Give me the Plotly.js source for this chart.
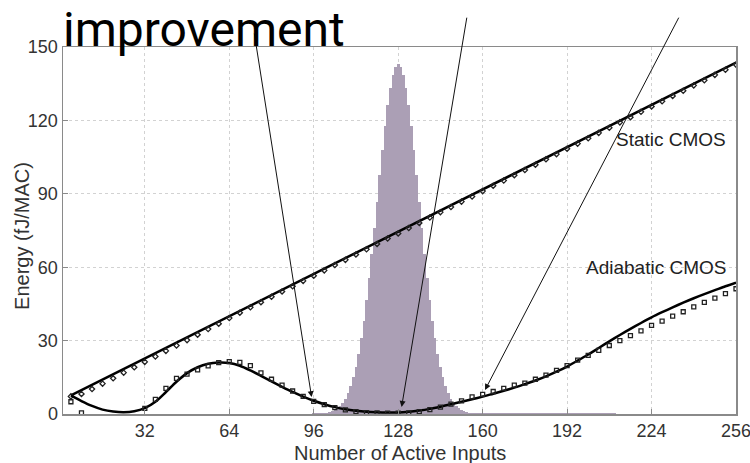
<!DOCTYPE html>
<html>
<head>
<meta charset="utf-8">
<script src="https://cdn.plot.ly/plotly-3.0.1.min.js"></script>
<style>html,body{margin:0;padding:0;background:#fff;}#chart{width:750px;height:463px;}</style>
</head>
<body>
<div id="chart"></div>
<script>
// ---- data ----
const xTickVals = [32, 64, 96, 128, 160, 192, 224, 256];
const yTickVals = [0, 30, 60, 90, 120, 150];

// Static CMOS model line (end points)
const staticLineX = [4, 256];
const staticLineY = [7.6, 143.6];

// Static CMOS measured markers, every 4 inputs starting at 4
const staticMarkStart = 4, staticMarkStep = 4;
const staticMarkY = [7.2, 8.2, 10.2, 12.4, 14.6, 16.9, 19.1, 21.3, 23.5, 25.8,
  28.0, 30.2, 32.4, 34.7, 36.9, 39.2, 41.4, 43.6, 45.7, 47.9,
  50.1, 52.2, 54.4, 56.5, 58.7, 60.9, 63.0, 65.2, 67.3, 69.5,
  71.7, 73.8, 76.0, 78.1, 80.3, 82.5, 84.6, 86.8, 88.9, 91.1,
  93.3, 95.4, 97.6, 99.7, 101.9, 104.1, 106.2, 108.4, 110.5, 112.7,
  114.9, 117.0, 119.2, 121.3, 123.5, 125.7, 127.8, 130.0, 132.1, 134.3,
  136.4, 138.6, 140.7, 142.8];

// Adiabatic CMOS model curve, every 4 inputs starting at 4
const adiaLineStart = 4, adiaLineStep = 4;
const adiaLineY = [7.6, 5.3, 3.3, 1.8, 1.0, 0.7, 1.1, 2.4, 5.0, 9.0,
  13.2, 16.7, 19.1, 20.5, 21.0, 20.8, 19.7, 17.8, 15.6, 13.3,
  11.1, 9.0, 7.1, 5.4, 4.0, 2.8, 1.9, 1.3, 0.9, 0.7,
  0.6, 0.6, 0.9, 1.4, 2.1, 3.0, 4.0, 5.0, 6.0, 7.1,
  8.3, 9.5, 10.8, 12.2, 13.7, 15.4, 17.3, 19.4, 21.8, 24.3,
  27.0, 29.7, 32.3, 34.8, 37.2, 39.5, 41.6, 43.6, 45.5, 47.3,
  49.0, 50.6, 52.2, 53.7];

// Adiabatic CMOS measured markers, every 4 inputs starting at 4
const adiaMarkStart = 4, adiaMarkStep = 4;
const adiaMarkY = [5.0, 0.5, null, null, null, null, null, 2.3, 6.0, 10.5,
  14.6, 16.3, 18.0, 19.7, 21.0, 21.4, 21.1, 19.8, 16.8, 14.2,
  11.8, 9.4, 7.2, 5.2, 3.8, 2.6, 1.7, 1.0, 0.6, 0.4,
  0.3, 0.3, 0.5, 1.0, 1.8, 2.8, 4.0, 5.4, 7.0, 8.0,
  9.2, 10.5, 11.8, 12.6, 14.2, 15.9, 17.8, 19.8, 22.0, 24.0,
  26.0, 28.0, 30.0, 32.0, 34.0, 36.2, 38.0, 40.0, 41.8, 43.8,
  45.6, 47.4, 49.2, 51.2];

// Histogram of active inputs (scaled), one bin per input starting at 96
const histStart = 96, histStep = 1;
const histY = [0.4, 0.4, 0.4, 0.4, 0.4, 0.5, 0.7, 1.1, 1.6, 2.3,
  3.3, 4.6, 6.3, 8.5, 11.4, 15.0, 19.4, 24.7, 30.9, 38.2,
  46.4, 55.6, 65.5, 75.9, 86.7, 97.5, 107.9, 117.6, 126.2, 133.3,
  138.6, 141.9, 143.0, 141.9, 138.6, 133.3, 126.2, 117.6, 107.9, 97.5,
  86.7, 75.9, 65.5, 55.6, 46.4, 38.2, 30.9, 24.7, 19.4, 15.0,
  11.4, 8.5, 6.3, 4.6, 3.3, 2.3, 1.6, 1.1, 0.7, 0.5,
  0.4, 0.4, 0.4, 0.4, 0.4, 0.4, 0.4, 0.4, 0.4, 0.4,
  0.4, 0.4, 0.4, 0.4, 0.4, 0.4, 0.4, 0.4, 0.4, 0.4,
  0.4, 0.4, 0.4, 0.4, 0.4, 0.4, 0.4, 0.4, 0.4, 0.4,
  0.4, 0.4, 0.4, 0.4, 0.4, 0.4, 0.4, 0.4, 0.4, 0.4,
  0.4, 0.4, 0.4, 0.4, 0.4, 0.4, 0.4, 0.4, 0.4, 0.4,
  0.4, 0.4, 0.4, 0.4, 0.4];

// Arrows: tips and tails in data units
const arrowTips = [[95.2, 6.9], [129.3, 2.9], [160.9, 9.8]];
const arrowTails = [[73.4, 156.1], [154.1, 162.6], [234.6, 162.6]];

const labels = {
  title: 'improvement',
  xTitle: 'Number of Active Inputs',
  yTitle: 'Energy (fJ/MAC)',
  staticLbl: 'Static CMOS',
  adiaLbl: 'Adiabatic CMOS'
};

const sans = 'Liberation Sans, Arial, sans-serif';

// ---- traces ----
const traces = [
  {type: 'bar', x0: histStart, dx: histStep, y: histY, width: 1,
   marker: {color: '#ab9fb5', line: {width: 0}}, hoverinfo: 'skip'},
  {type: 'scatter', mode: 'lines', x: staticLineX, y: staticLineY,
   line: {color: '#000', width: 2.5}},
  {type: 'scatter', mode: 'markers', x0: staticMarkStart, dx: staticMarkStep, y: staticMarkY,
   marker: {symbol: 'diamond-open', size: 4, color: '#222', line: {width: 1.3, color: '#222'}}},
  {type: 'scatter', mode: 'lines', x0: adiaLineStart, dx: adiaLineStep, y: adiaLineY,
   line: {color: '#000', width: 2.5, shape: 'spline', smoothing: 0.8}},
  {type: 'scatter', mode: 'markers', x0: adiaMarkStart, dx: adiaMarkStep, y: adiaMarkY,
   marker: {symbol: 'square-open', size: 4, color: '#222', line: {width: 1.3, color: '#222'}}}
];

const axisCommon = {
  showline: true, linecolor: '#8a8a8a', linewidth: 1.5, mirror: true,
  showgrid: true, gridcolor: '#d2d2d2', griddash: 'dot', gridwidth: 1,
  ticks: 'inside', ticklen: 5, tickcolor: '#8a8a8a',
  zeroline: false, ticklabeloverflow: 'allow',
  tickfont: {family: sans, size: 18, color: '#333'}
};

const annotations = [];
for (let i = 0; i < arrowTips.length; i++) {
  annotations.push({
    x: arrowTips[i][0], y: arrowTips[i][1], xref: 'x', yref: 'y',
    ax: arrowTails[i][0], ay: arrowTails[i][1], axref: 'x', ayref: 'y',
    showarrow: true, arrowhead: 2, arrowsize: 1.2, arrowwidth: 1, arrowcolor: '#111', text: ''
  });
}
// 'improvement' text, box top just inside the page
annotations.push({
  x: 0.0, y: (414 - 0.5) / 367, xref: 'paper', yref: 'paper', xanchor: 'left', yanchor: 'top',
  text: labels.title, showarrow: false, borderpad: 0, borderwidth: 0,
  font: {family: 'Roboto, sans-serif', size: 48, color: '#000'}
});
annotations.push({
  x: 253, y: 112, xref: 'x', yref: 'y', xanchor: 'right', yanchor: 'middle',
  text: labels.staticLbl, showarrow: false,
  font: {family: sans, size: 19, color: '#222'}
});
annotations.push({
  x: 253, y: 60, xref: 'x', yref: 'y', xanchor: 'right', yanchor: 'middle',
  text: labels.adiaLbl, showarrow: false,
  font: {family: sans, size: 19, color: '#222'}
});
annotations.push({
  x: -0.061, y: 0.485, xref: 'paper', yref: 'paper', xanchor: 'center', yanchor: 'middle',
  text: labels.yTitle, textangle: -90, showarrow: false,
  font: {family: sans, size: 20, color: '#333'}
});
annotations.push({
  x: 0.5, y: (414 - 453) / 367, xref: 'paper', yref: 'paper', xanchor: 'center', yanchor: 'middle',
  text: labels.xTitle, showarrow: false,
  font: {family: sans, size: 20, color: '#333'}
});

const layout = {
  width: 750, height: 463,
  margin: {l: 63, r: 14, t: 47, b: 49},
  paper_bgcolor: '#fff', plot_bgcolor: '#fff',
  showlegend: false, bargap: 0,
  xaxis: Object.assign({}, axisCommon, {
    range: [1, 256], tickvals: xTickVals, ticktext: xTickVals.map(String)
  }),
  yaxis: Object.assign({}, axisCommon, {
    range: [0, 150], tickvals: yTickVals, ticktext: yTickVals.map(String)
  }),
  annotations: annotations
};

Plotly.newPlot('chart', traces, layout, {displayModeBar: false, staticPlot: true});
</script>
</body>
</html>
